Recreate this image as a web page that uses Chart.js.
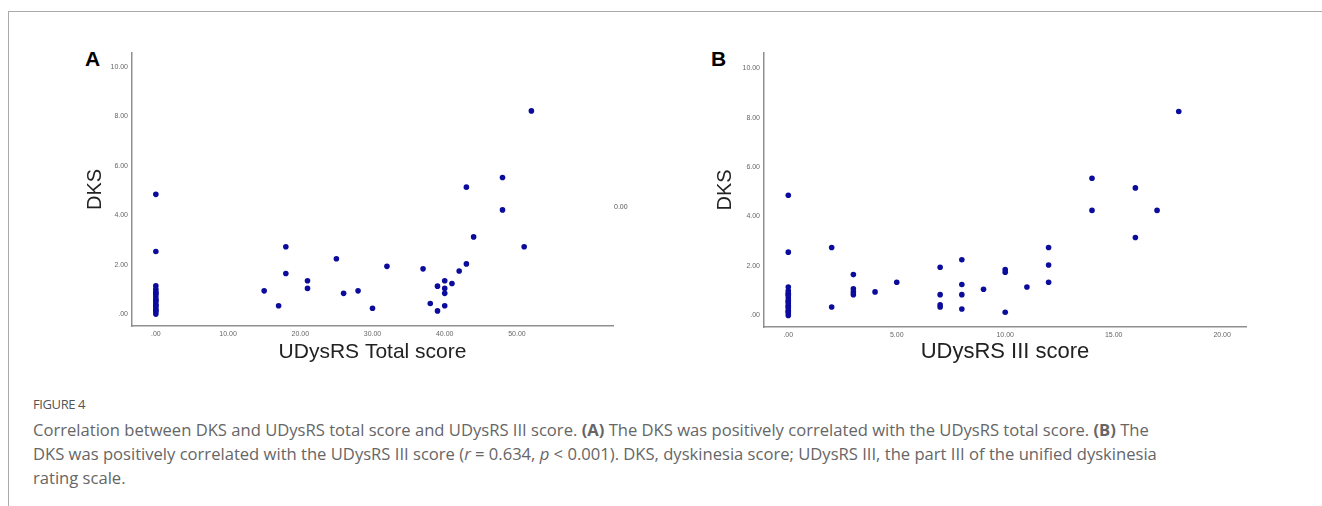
<!DOCTYPE html>
<html>
<head>
<meta charset="utf-8">
<script src="https://cdn.jsdelivr.net/npm/chart.js@4.4.1/dist/chart.umd.min.js"></script>
<style>
  body { margin: 0; background: #fff; width: 1322px; height: 506px; overflow: hidden; position: relative; }
  .card { position: absolute; left: 8px; top: 11px; width: 1400px; height: 600px; border-top: 1px solid #aaa; border-left: 1px solid #aaa; }
  .box { position: absolute; top: 40px; width: 600px; height: 330px; }
  .tag { position: absolute; font: bold 21px "Liberation Sans", Arial, sans-serif; color: #000; line-height: 21px; }
  .stray { position: absolute; left: 614px; top: 203px; font: 7px "Liberation Sans", Arial, sans-serif; color: #555; }
  .fig { position: absolute; left: 33px; top: 396px; font: 13px/16px "Open Sans", sans-serif; letter-spacing: -0.4px; color: #555; }
  .cap { position: absolute; left: 33px; top: 418px; font: 16.6px/24px "Open Sans", sans-serif; color: #666; white-space: nowrap; }
</style>
</head>
<body>
<div class="card"></div>
<div class="tag" style="left:85px;top:48px">A</div>
<div class="tag" style="left:711px;top:48px">B</div>
<div class="box" style="left:60px"><canvas id="chartA"></canvas></div>
<div class="box" style="left:700px"><canvas id="chartB"></canvas></div>
<div class="stray">0.00</div>
<div class="fig">FIGURE 4</div>
<div class="cap">Correlation between DKS and UDysRS total score and UDysRS III score. <b>(A)</b> The DKS was positively correlated with the UDysRS total score. <b>(B)</b> The<br>DKS was positively correlated with the UDysRS III score (<i>r</i> = 0.634, <i>p</i> &lt; 0.001). DKS, dyskinesia score; UDysRS III, the part III of the unified dyskinesia<br>rating scale.</div>

<script>
// tick values
var yTicks = [0, 2, 4, 6, 8, 10];
var xTicksA = [0, 10, 20, 30, 40, 50];
var xTicksB = [0, 5, 10, 15, 20];

// panel A: UDysRS total score vs DKS
var totalScore = [0, 0, 0, 0, 0, 0, 0, 0, 0, 0, 0, 0, 0, 0, 0, 0, 0, 0,
  15, 17, 18, 18, 21, 21, 25, 26, 28, 30, 32, 37, 38, 39, 39, 40, 40, 40, 40,
  41, 42, 43, 43, 44, 48, 48, 51, 52];
var dksA = [4.84, 2.53, 1.14, 1.0, 0.9, 0.85, 0.8, 0.7, 0.6, 0.55, 0.5, 0.4, 0.35, 0.3, 0.2, 0.15, 0.1, 0.0,
  0.94, 0.34, 2.72, 1.64, 1.35, 1.04, 2.24, 0.84, 0.94, 0.24, 1.93, 1.83, 0.43, 1.13, 0.13, 1.35, 1.04, 0.84, 0.34,
  1.24, 1.74, 2.03, 5.13, 3.12, 5.52, 4.21, 2.72, 8.21];

// panel B: UDysRS III score vs DKS
var partIII = [0, 0, 0, 0, 0, 0, 0, 0, 0, 0, 0, 0, 0, 0, 0, 0, 0, 0,
  2, 2, 3, 3, 3, 3, 4, 5, 7, 7, 7, 7, 8, 8, 8, 8, 9, 10, 10, 10, 11,
  12, 12, 12, 14, 14, 16, 16, 17, 18];
var dksB = [4.86, 2.56, 1.15, 1.0, 0.9, 0.85, 0.8, 0.7, 0.6, 0.55, 0.5, 0.4, 0.35, 0.3, 0.2, 0.15, 0.1, 0.0,
  2.75, 0.34, 1.65, 1.08, 0.95, 0.84, 0.95, 1.34, 1.95, 0.84, 0.43, 0.34, 2.25, 1.25, 0.84, 0.26, 1.06, 1.86, 1.75, 0.13, 1.15,
  2.75, 2.04, 1.34, 5.55, 4.25, 5.16, 3.15, 4.25, 8.25];

function fmt(v) {
  return v === 0 ? '.00' : v.toFixed(2);
}

function scatter(id, xs, ys, cfg) {
  var pts = xs.map(function(x, i) { return { x: x, y: ys[i] }; });
  var tickFont = { family: 'Liberation Sans', size: 7 };
  return new Chart(document.getElementById(id), {
    type: 'scatter',
    data: {
      datasets: [{
        data: pts,
        backgroundColor: '#0b0b9c',
        borderWidth: 0,
        pointRadius: 2.8
      }]
    },
    options: {
      responsive: true,
      maintainAspectRatio: false,
      animation: false,
      layout: { padding: { top: 13, right: cfg.right, bottom: 0, left: 0 } },
      plugins: { legend: { display: false }, tooltip: { enabled: false } },
      scales: {
        x: {
          type: 'linear',
          min: cfg.xMin,
          max: cfg.xMax,
          afterBuildTicks: function(s) { s.ticks = cfg.xTicks.map(function(v) { return { value: v }; }); },
          afterFit: function(s) { s.height = cfg.xHeight; },
          grid: { display: false, drawTicks: false },
          border: { display: true, color: '#8f8f8f', width: 1.5 },
          ticks: { padding: 4, font: tickFont, color: '#666', maxRotation: 0, autoSkip: false, callback: fmt },
          title: {
            display: true, text: cfg.xTitle, color: '#222',
            font: { family: 'Liberation Sans', size: cfg.xTitleSize },
            padding: { top: 0, bottom: 5 }
          }
        },
        y: {
          min: cfg.yMin,
          max: cfg.yMax,
          afterBuildTicks: function(s) { s.ticks = yTicks.map(function(v) { return { value: v }; }); },
          afterFit: function(s) { s.width = cfg.yWidth; },
          grid: { display: false, drawTicks: false },
          border: { display: true, color: '#8f8f8f', width: 1.5 },
          ticks: { padding: 4, font: tickFont, color: '#666', autoSkip: false, callback: fmt },
          title: {
            display: true, text: 'DKS', color: '#222',
            font: { family: 'Liberation Sans', size: 20 },
            padding: { top: cfg.yTitlePad, bottom: 0 }
          }
        }
      }
    }
  });
}

scatter('chartA', totalScore, dksA, {
  xTicks: xTicksA, xMin: -3.3, xMax: 63.3, yMin: -0.48, yMax: 10.55,
  yWidth: 72, xHeight: 44, right: 47, yTitlePad: 23, xTitle: 'UDysRS Total score', xTitleSize: 21
});
scatter('chartB', partIII, dksB, {
  xTicks: xTicksB, xMin: -1.12, xMax: 21.1, yMin: -0.47, yMax: 10.62,
  yWidth: 64, xHeight: 43, right: 54, yTitlePad: 13, xTitle: 'UDysRS III score', xTitleSize: 22
});
</script>
</body>
</html>
